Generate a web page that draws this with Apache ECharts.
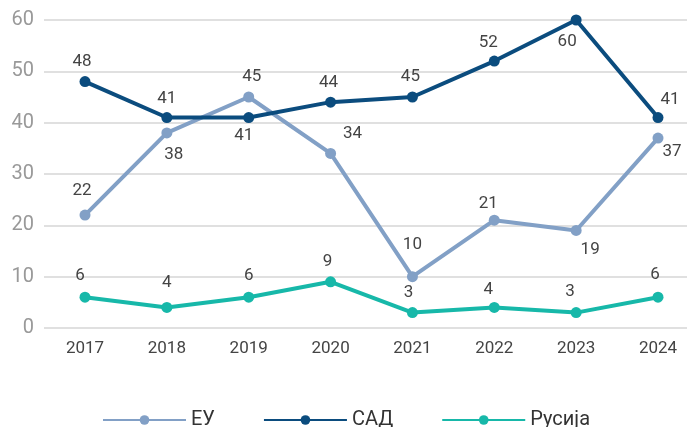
<!DOCTYPE html>
<html><head><meta charset="utf-8">
<script src="https://cdn.jsdelivr.net/npm/echarts@6/dist/echarts.min.js"></script>
<style>html,body{margin:0;padding:0;background:#fff}#c{width:687px;height:427px}</style>
</head><body><div id="c"></div>
<script>
const categories = ['2017','2018','2019','2020','2021','2022','2023','2024'];
const seriesNames = ['ЕУ','САД','Русија'];
const euValues = [22,38,45,34,10,21,19,37];
const usaValues = [48,41,41,44,45,52,60,41];
const russiaValues = [6,4,6,9,3,4,3,6];
const yTicks = [0,10,20,30,40,50,60];

// label placement per point: [dx, dy] offsets relative to point
const euLabelPos = [[-3,-24],[7,22],[3,-20],[22,-20],[0,-32],[-6,-16],[14,19],[14,14]];
const usaLabelPos = [[-3,-20],[0,-19],[-5,18],[-2,-19],[-2,-20],[-6,-18],[-9,22],[12,-18]];
const ruLabelPos = [[-5,-21],[0,-25],[0,-21],[-3,-20],[-4,-20],[-6,-18],[-6,-21],[-3,-22]];

const colors = ['#82A0C6','#0B4C7E','#17B8A9'];

function mkData(vals, pos){
  return vals.map((v,i)=>({value:v,label:{show:true,position:'inside',offset:pos[i]}}));
}
const chart = echarts.init(document.getElementById('c'));
const lbl = {color:'#444',fontSize:17,fontFamily:'Roboto'};
const yMin = yTicks[0], yMax = yTicks[yTicks.length-1];
chart.setOption({
  animation:false,
  color:colors,
  textStyle:{fontFamily:'Roboto'},
  grid:[
    {left:85,top:20,right:29,height:308,containLabel:false},
    {left:44,top:20,right:0,height:308,containLabel:false}
  ],
  legend:{top:405,left:97,itemWidth:83,itemHeight:12,itemGap:48,
    textStyle:{fontSize:20,color:'#333',fontFamily:'Roboto'},
    data:seriesNames},
  xAxis:[
    {type:'category',gridIndex:0,data:categories,boundaryGap:false,
     axisLine:{show:false},axisTick:{show:false},splitLine:{show:false},
     axisLabel:{color:'#444',fontSize:17,margin:12,fontFamily:'Roboto'}},
    {type:'value',gridIndex:1,min:0,max:1,show:false}
  ],
  yAxis:[
    {type:'value',gridIndex:0,min:yMin,max:yMax,interval:10,show:false,splitLine:{show:false}},
    {type:'value',gridIndex:1,min:yMin,max:yMax,interval:10,
     axisLine:{show:false},axisTick:{show:false},
     splitLine:{lineStyle:{color:'#d6d6d6',width:1.5}},
     axisLabel:{color:'#999',fontSize:20,margin:10,fontFamily:'Roboto'}}
  ],
  series:[
    {name:seriesNames[0],type:'line',xAxisIndex:0,yAxisIndex:0,data:mkData(euValues,euLabelPos),symbol:'circle',symbolSize:11,
     lineStyle:{width:4},label:lbl,z:2},
    {name:seriesNames[1],type:'line',xAxisIndex:0,yAxisIndex:0,data:mkData(usaValues,usaLabelPos),symbol:'circle',symbolSize:11,
     lineStyle:{width:4},label:lbl,z:3},
    {name:seriesNames[2],type:'line',xAxisIndex:0,yAxisIndex:0,data:mkData(russiaValues,ruLabelPos),symbol:'circle',symbolSize:11,
     lineStyle:{width:4},label:lbl,z:1}
  ]
});
</script></body></html>
